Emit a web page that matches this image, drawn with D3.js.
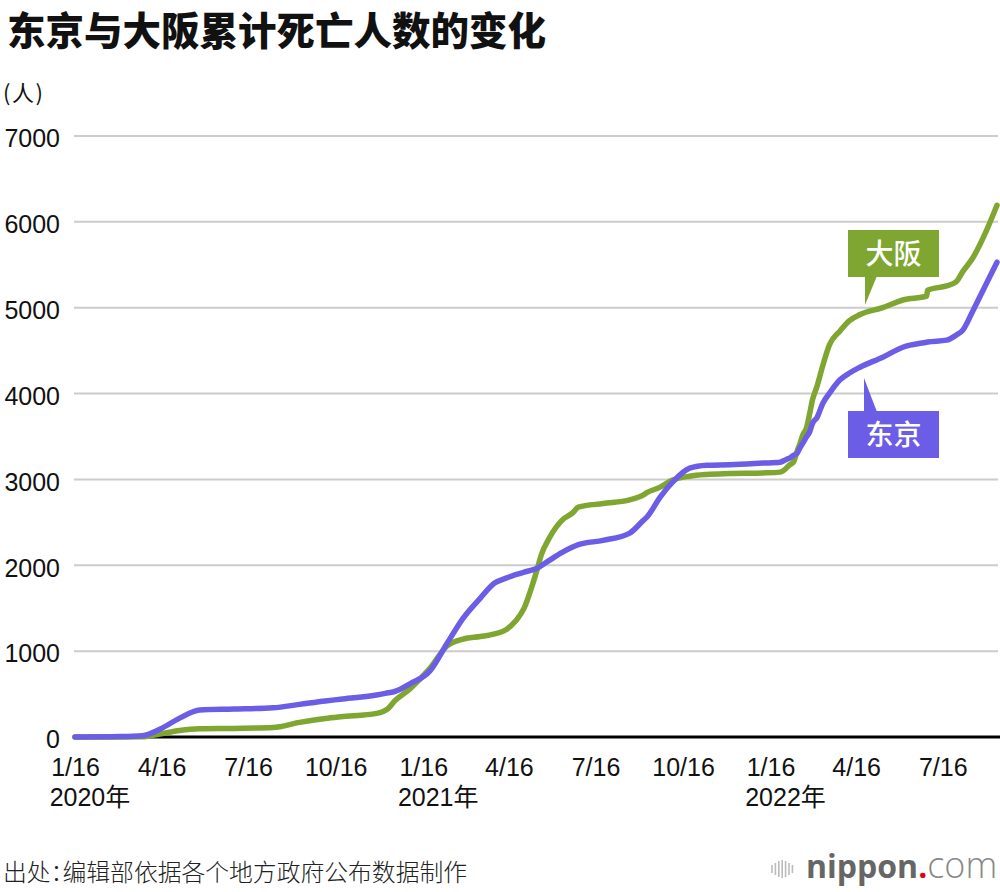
<!DOCTYPE html>
<html>
<head>
<meta charset="utf-8">
<script src="https://cdn.jsdelivr.net/npm/d3@7"></script>
<style>
  html, body { margin: 0; padding: 0; background: #fff; }
  svg { display: block; }
  .halt { font-feature-settings: "halt" 1; }
</style>
</head>
<body>
<svg id="chart" width="1000" height="892"></svg>
<script>
const dates = [
  "2020-01-16","2020-03-03","2020-03-27","2020-04-14","2020-05-05","2020-05-26",
  "2020-07-01","2020-08-11","2020-09-08","2020-10-05","2020-10-21","2020-11-28",
  "2020-12-10","2020-12-17","2021-01-02","2021-01-23","2021-02-10","2021-02-27",
  "2021-03-17","2021-04-01","2021-04-13","2021-04-23","2021-05-02","2021-05-10",
  "2021-05-16","2021-05-20","2021-05-29","2021-06-11","2021-06-22","2021-06-28",
  "2021-07-24","2021-08-21","2021-09-04","2021-09-08","2021-09-22","2021-10-05",
  "2021-10-23","2021-11-10","2021-12-04","2022-01-08","2022-01-26","2022-02-01",
  "2022-02-05","2022-02-09","2022-02-13","2022-02-16","2022-02-19","2022-02-23",
  "2022-02-26","2022-03-01","2022-03-06","2022-03-12","2022-03-19","2022-03-30",
  "2022-04-09","2022-04-20","2022-05-14","2022-06-04","2022-06-29","2022-06-30",
  "2022-07-20","2022-07-30","2022-08-06","2022-08-17","2022-08-31","2022-09-11"
];
const tokyo = [
  0, 5, 15, 90, 220, 315,
  325, 340, 380, 420, 440, 490,
  515, 530, 620, 770, 1090, 1385,
  1618, 1793, 1850, 1890, 1920, 1945,
  1967, 1995, 2060, 2150, 2212, 2240,
  2290, 2375, 2520, 2561, 2794, 2968,
  3131, 3165, 3172, 3190, 3200, 3230,
  3248, 3280, 3306, 3370, 3423, 3500,
  3551, 3650, 3725, 3888, 4005, 4160,
  4240, 4307, 4424, 4540, 4598, 4600,
  4622, 4680, 4738, 4971, 5285, 5530
];
const osaka = [
  0, 0, 2, 35, 75, 95,
  100, 110, 170, 215, 235, 275,
  330, 420, 560, 800, 1060, 1140,
  1170, 1200, 1250, 1350, 1500, 1746,
  1964, 2120, 2328, 2526, 2610, 2677,
  2720, 2762, 2817, 2845, 2910, 2992,
  3038, 3058, 3068, 3075, 3085, 3125,
  3170, 3201, 3330, 3420, 3520, 3609,
  3760, 3923, 4090, 4330, 4570, 4730,
  4850, 4920, 5000, 5090, 5134, 5203,
  5255, 5300, 5420, 5588, 5900, 6193
];
const seriesNames = ["大阪", "东京"];
const yTicks = [0, 1000, 2000, 3000, 4000, 5000, 6000, 7000];
const xTickDates = ["2020-01-16","2020-04-16","2020-07-16","2020-10-16",
                    "2021-01-16","2021-04-16","2021-07-16","2021-10-16",
                    "2022-01-16","2022-04-16","2022-07-16"];
const xTickLabels = ["1/16","4/16","7/16","10/16","1/16","4/16","7/16","10/16","1/16","4/16","7/16"];
const yearDates = ["2020-01-16","2021-01-16","2022-01-16"];
const yearLabels = ["2020年","2021年","2022年"];
const titleText = "东京与大阪累计死亡人数的变化";
const unitText = "(人)";
const sourceText = "出处：编辑部依据各个地方政府公布数据制作";

const parse = d3.timeParse("%Y-%m-%d");
const green = "#7ea630";
const purple = "#6c5de6";
const latin = "'Liberation Sans', Arial, 'Noto Sans CJK SC', sans-serif";
const cjk = "'Noto Sans CJK SC', 'Liberation Sans', sans-serif";

const svg = d3.select("#chart");

const x = d3.scaleTime()
  .domain([parse("2020-01-16"), parse("2022-09-11")])
  .range([75, 997]);
const y = d3.scaleLinear().domain([0, 7000]).range([737, 136]);

// title
svg.append("text").attr("x", 7).attr("y", 44.5)
  .attr("font-family", cjk).attr("font-weight", 900).attr("font-size", 38.5)
  .attr("fill", "#111").text(titleText);

svg.append("text").attr("x", 3).attr("y", 101)
  .attr("font-family", cjk).attr("font-size", 22).attr("letter-spacing", 1.5)
  .attr("fill", "#111").text(unitText);

// gridlines
const grid = svg.append("g");
grid.selectAll("line").data(yTicks.filter(d => d > 0)).join("line")
  .attr("x1", 74).attr("x2", 998)
  .attr("y1", d => y(d)).attr("y2", d => y(d))
  .attr("stroke", "#cccccc").attr("stroke-width", 2);

// y labels
const yAxis = d3.axisLeft(y).tickValues(yTicks).tickSize(0).tickPadding(0).tickFormat(d3.format("d"));
const yg = svg.append("g").attr("transform", "translate(60,0)").call(yAxis);
yg.select(".domain").remove();
yg.selectAll("text").attr("font-family", latin).attr("font-size", 25).attr("fill", "#111")
  .attr("dy", "0.43em");

// x axis baseline
svg.append("line").attr("x1", 74).attr("x2", 1000)
  .attr("y1", y(0)).attr("y2", y(0)).attr("stroke", "#000").attr("stroke-width", 3);

// x tick labels
const xAxis = d3.axisBottom(x).tickValues(xTickDates.map(parse)).tickSize(0).tickPadding(0)
  .tickFormat((d, i) => xTickLabels[i]);
const xg = svg.append("g").attr("transform", "translate(0,776)").call(xAxis);
xg.select(".domain").remove();
xg.selectAll("text").attr("font-family", latin).attr("font-size", 25).attr("fill", "#111")
  .attr("dy", 0).attr("y", 0);

// year labels: left edge aligned with the corresponding tick label
const labelHalf = [];
xg.selectAll("text").each(function() { labelHalf.push(this.getBBox().width / 2); });
svg.append("g").selectAll("text").data(yearDates).join("text")
  .attr("x", (d, i) => x(parse(d)) - labelHalf[0] - 1)
  .attr("y", 806)
  .attr("font-family", latin).attr("font-size", 25).attr("fill", "#111")
  .text((d, i) => yearLabels[i]);

// lines
const pts = s => dates.map((d, i) => [parse(d), s[i]]);
const line = d3.line().x(d => x(d[0])).y(d => y(d[1])).curve(d3.curveMonotoneX);
svg.append("path").datum(pts(osaka)).attr("d", line)
  .attr("fill", "none").attr("stroke", green).attr("stroke-width", 5.5)
  .attr("stroke-linejoin", "round").attr("stroke-linecap", "round");
svg.append("path").datum(pts(tokyo)).attr("d", line)
  .attr("fill", "none").attr("stroke", purple).attr("stroke-width", 5.5)
  .attr("stroke-linejoin", "round").attr("stroke-linecap", "round");

// callouts
function callout(name, color, bx, by, tri) {
  const g = svg.append("g");
  g.append("polygon").attr("points", tri.map(p => p.join(",")).join(" ")).attr("fill", color);
  g.append("rect").attr("x", bx).attr("y", by).attr("width", 91).attr("height", 47).attr("fill", color);
  g.append("text").attr("x", bx + 45.5).attr("y", by + 23.5).attr("dy", "0.37em")
    .attr("text-anchor", "middle").attr("font-family", cjk).attr("font-size", 28)
    .attr("font-weight", 500).attr("fill", "#fff").text(name);
}
callout(seriesNames[0], green, 848, 230, [[865, 276], [877, 276], [865, 305]]);
callout(seriesNames[1], purple, 848, 411, [[864, 412], [877, 412], [864, 378]]);

// footer
svg.append("text").attr("x", 3).attr("y", 881).attr("class", "halt")
  .attr("font-family", cjk).attr("font-weight", 300).attr("font-size", 23.8)
  .attr("fill", "#222").text(sourceText);

// logo
const logo = svg.append("g");
const barH = [8, 12, 16, 18, 16, 12, 8];
logo.selectAll("line").data(barH).join("line")
  .attr("x1", (d, i) => 772 + i * 3.4).attr("x2", (d, i) => 772 + i * 3.4)
  .attr("y1", d => 869 - d / 2).attr("y2", d => 869 + d / 2)
  .attr("stroke", "#bbb").attr("stroke-width", 1.6);
const lt = logo.append("text").attr("x", 806).attr("y", 878)
  .attr("font-family", "'Open Sans', sans-serif").attr("font-size", 32);
lt.append("tspan").attr("font-weight", 700).attr("fill", "#666").text("nippon");
lt.append("tspan").attr("font-weight", 700).attr("fill", "#e60012").text(".");
lt.append("tspan").attr("font-weight", 300).attr("font-size", 36).attr("fill", "#888").text("com");
</script>
</body>
</html>
